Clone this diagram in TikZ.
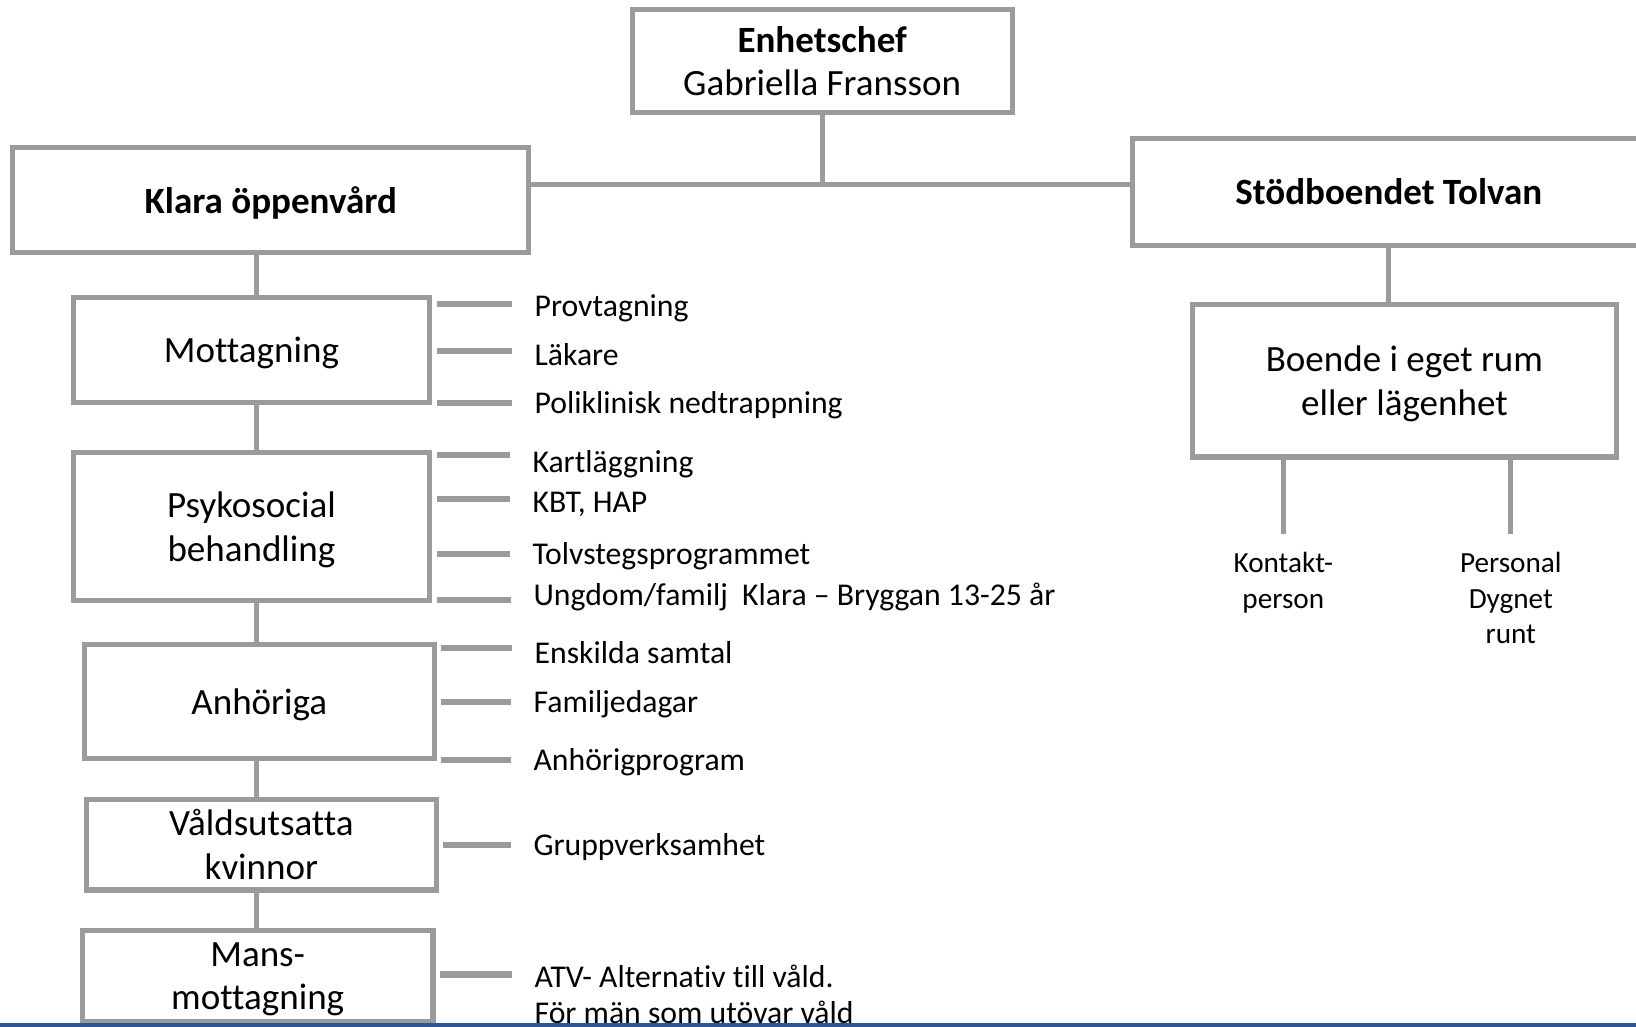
\documentclass[tikz,border=0pt]{standalone}
\usepackage{fontspec}
\setmainfont{Carlito}[Ligatures = NoCommon]
\usetikzlibrary{calc}
\definecolor{boxgray}{RGB}{155,155,155}
\definecolor{barblue}{RGB}{47,85,151}
\newcommand{\bigtext}{\fontsize{17.75pt}{21pt}\selectfont}
\newcommand{\listtext}{\fontsize{15.2pt}{17.5pt}\selectfont}
\newcommand{\stafftext}{\fontsize{14pt}{17pt}\selectfont}

\begin{document}
\begin{tikzpicture}[x = .5pt, y = -.5pt,
  unit/.style = {draw = boxgray, line width = 2.4pt, align = center, inner sep = 0pt, text depth = 0pt, font = \bigtext},
  link/.style = {draw = boxgray, line width = 2.4pt},
  tick/.style = {draw = boxgray, line width = 2.9pt, shorten <= 2pt, shorten >= 10.5pt},
  item/.style = {anchor = west, inner sep = 0pt, text height = 13.6pt, text depth = 3.3pt, font = \listtext},
  staff/.style = {anchor = north, align = center, inner sep = 0pt, font = \stafftext}]
\useasboundingbox (0,0) rectangle (1568,984);
\clip (0,0) rectangle (1568,984);
% top level
\node[unit, minimum width = 182pt, minimum height = 49.5pt] (chef) at (788,58.5) {\textbf{Enhetschef}\\Gabriella Fransson};
\node[unit, font = \bigtext\bfseries, minimum width = 247.5pt, minimum height = 50.5pt] (klara) at (259.5,191.5) {Klara öppenvård};
\node[unit, font = \bigtext\bfseries, minimum width = 246pt, minimum height = 51pt] (stod) at (1331,184) {Stödboendet Tolvan};
\coordinate (hub) at (788,177);
\draw[link] (chef.south) -- (hub);
\draw[link] (klara.east |- hub) -- (stod.west |- hub);
% Klara column
\node[unit, minimum width = 171pt, minimum height = 50.5pt] (mott) at (241,335.5) {Mottagning};
\node[unit, minimum width = 171pt, minimum height = 71pt] (psyk) at (241,505) {Psykosocial\\behandling};
\node[unit, minimum width = 167.5pt, minimum height = 54.5pt] (anh) at (248.5,672.5) {Anhöriga};
\node[unit, minimum width = 167.5pt, minimum height = 43.5pt] (vald) at (250.5,809.5) {Våldsutsatta\\kvinnor};
\node[unit, minimum width = 168pt, minimum height = 43.5pt] (mans) at (247,935.5) {Mans-\\mottagning};
\coordinate (spine) at (246,0);
\draw[link] (klara.south -| spine) -- (mott.north -| spine);
\draw[link] (mott.south -| spine) -- (psyk.north -| spine);
\draw[link] (psyk.south -| spine) -- (anh.north -| spine);
\draw[link] (anh.south -| spine) -- (vald.north -| spine);
\draw[link] (vald.south -| spine) -- (mans.north -| spine);
% insatser
\node[item] (prov) at (512,293) {Provtagning};
\node[item] (lak) at (512,340) {Läkare};
\node[item] (poli) at (512,386) {Poliklinisk nedtrappning};
\node[item] (kart) at (510,443) {Kartläggning};
\node[item] (kbt) at (510,481) {KBT, HAP};
\node[item] (tolv) at (510,531) {Tolvstegsprogrammet};
\node[item] (ungd) at (511,570) {Ungdom/familj\ \ Klara – Bryggan 13-25 år};
\node[item] (ensk) at (512,626) {Enskilda samtal};
\node[item] (fam) at (511,673) {Familjedagar};
\node[item] (anhp) at (511,728) {Anhörigprogram};
\node[item] (grupp) at (511,810) {Gruppverksamhet};
\node[item] (atv) at (512,936) {ATV- Alternativ till våld.};
\node[item] (atvb) at (512,971) {För män som utövar våld};
\draw[tick] ($(mott.east |- prov.west)+(0,-2)$) -- ($(prov.west)+(0,-2)$);
\draw[tick] ($(mott.east |- lak.west)+(0,-4)$) -- ($(lak.west)+(0,-4)$);
\draw[tick] (mott.east |- poli.west) -- (poli.west);
\draw[tick] ($(psyk.east |- kart.west)+(0,-7)$) -- ($(kart.west)+(0,-7)$);
\draw[tick] ($(psyk.east |- kbt.west)+(0,-3)$) -- ($(kbt.west)+(0,-3)$);
\draw[tick] (psyk.east |- tolv.west) -- (tolv.west);
\draw[tick] ($(psyk.east |- ungd.west)+(0,5)$) -- ($(ungd.west)+(0,5)$);
\draw[tick] ($(anh.east |- ensk.west)+(0,-5)$) -- ($(ensk.west)+(0,-5)$);
\draw[tick] (anh.east |- fam.west) -- (fam.west);
\draw[tick] (anh.east |- anhp.west) -- (anhp.west);
\draw[tick] (vald.east |- grupp.west) -- (grupp.west);
\draw[tick] ($(mans.east |- atv.west)+(0,-2)$) -- ($(atv.west)+(0,-2)$);
% Tolvan
\node[unit, minimum width = 203pt, minimum height = 73pt] (boende) at (1346,365) {Boende i eget rum\\ eller lägenhet};
\draw[link] (stod.south) -- (stod.south |- boende.north);
\node[staff] (kontakt) at (1230,529) {Kontakt-\\person};
\node[staff] (personal) at (1448,529) {Personal\\Dygnet\\runt};
\draw[link, shorten >= 8.5pt] (boende.south -| kontakt.north) -- (kontakt.north);
\draw[link, shorten >= 8.5pt] (boende.south -| personal.north) -- (personal.north);
% bottom bar
\fill[barblue] (0,980) rectangle (1568,984);
\end{tikzpicture}
\end{document}
